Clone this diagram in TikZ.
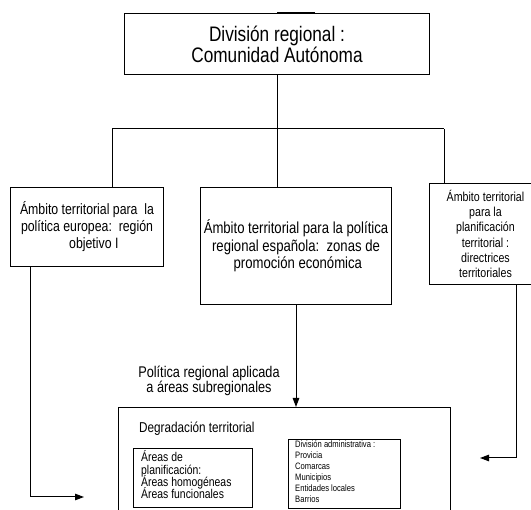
\documentclass[tikz,border=0pt]{standalone}
\usepackage{fontspec}
\setmainfont{Liberation Sans}[FakeStretch=0.82]
\usetikzlibrary{arrows.meta}
\begin{document}
\begin{tikzpicture}[x=1pt,y=-1pt,
  box/.style={draw, line width=1pt, inner sep=0pt, anchor=north west},
  conn/.style={line width=1pt},
  arr/.style={conn, -{Triangle[length=9pt,width=6.5pt]}},
  lin/.style={anchor=base west, inner sep=0pt}]
\useasboundingbox (0,0) rectangle (531,510);
\clip (0,0) rectangle (531,510);

% top box
\node[box, minimum width=305pt, minimum height=61pt, align=center,
      font=\fontsize{21}{21}\selectfont] (top) at (124,13)
      {División regional :\\Comunidad Autónoma};
\draw[line width=2.6pt] (277,13) -- (315,13);

% second level
\node[box, minimum width=153pt, minimum height=79pt, align=center,
      font=\fontsize{15}{17}\selectfont] (eu) at (10,187)
      {Ámbito territorial para\ \ la\\política europea:\ \ región\\\ \ \ \ objetivo I};
\node[box, minimum width=191pt, minimum height=117pt, align=center,
      font=\fontsize{16}{17.5}\selectfont] (es) at (200,187)
      {Ámbito territorial para la política\\ regional española:\ \ zonas de\\ \ promoción económica};
\node[box, minimum width=112pt, minimum height=101pt, align=center,
      font=\fontsize{13}{15.3}\selectfont] (dt) at (429,183)
      {Ámbito territorial\\para la\\planificación\\territorial :\\directrices\\territoriales};

% tree connectors
\coordinate (jc) at (277,129);
\coordinate (jl) at (112,129);
\coordinate (jr) at (444,129);
\draw[conn] (top.south) -- (jc);
\draw[conn] (jl) -- (jr);
\draw[conn] (jl) -- (jl |- eu.north);
\draw[conn] (jc) -- (jc |- es.north);
\draw[conn] (jr) -- (jr |- dt.north);

% label
\node[align=center, inner sep=0pt, font=\fontsize{15.5}{15}\selectfont] (lbl) at (209,381)
      {Política regional aplicada\\a áreas subregionales};

% bottom outer box
\node[box, minimum width=332pt, minimum height=140pt] (deg) at (118,407) {};
\node[lin, font=\fontsize{14.3}{14}\selectfont] (dgt) at (139,433) {Degradación territorial};

% inner boxes
\node[box, minimum width=119pt, minimum height=59pt] (pl) at (133,448) {};
\foreach \t/\y [count=\i] in {Áreas de/462, planificación:/474.5, Áreas homogéneas/486.5, Áreas funcionales/498.5}
  \node[lin, font=\fontsize{12.7}{13}\selectfont] (pl\i) at (141,\y) {\t};

\node[box, minimum width=112pt, minimum height=69pt] (ad) at (288,439) {};
\foreach \t/\y [count=\i] in {División administrativa :/448, Provicia/458.5, Comarcas/469.5, Municipios/480.5, Entidades locales/492, Barrios/503}
  \node[lin, font=\fontsize{9.3}{10}\selectfont] (ad\i) at (295,\y) {\t};

% arrows
\coordinate (ltip) at (84,497);
\coordinate (rtip) at (480,458);
\draw[arr] ([xshift=20pt]eu.south west) |- (ltip);
\draw[arr] (es.south) -- (es.south |- deg.north);
\draw[arr] ([xshift=87pt]dt.south west) |- (rtip);
\end{tikzpicture}
\end{document}
